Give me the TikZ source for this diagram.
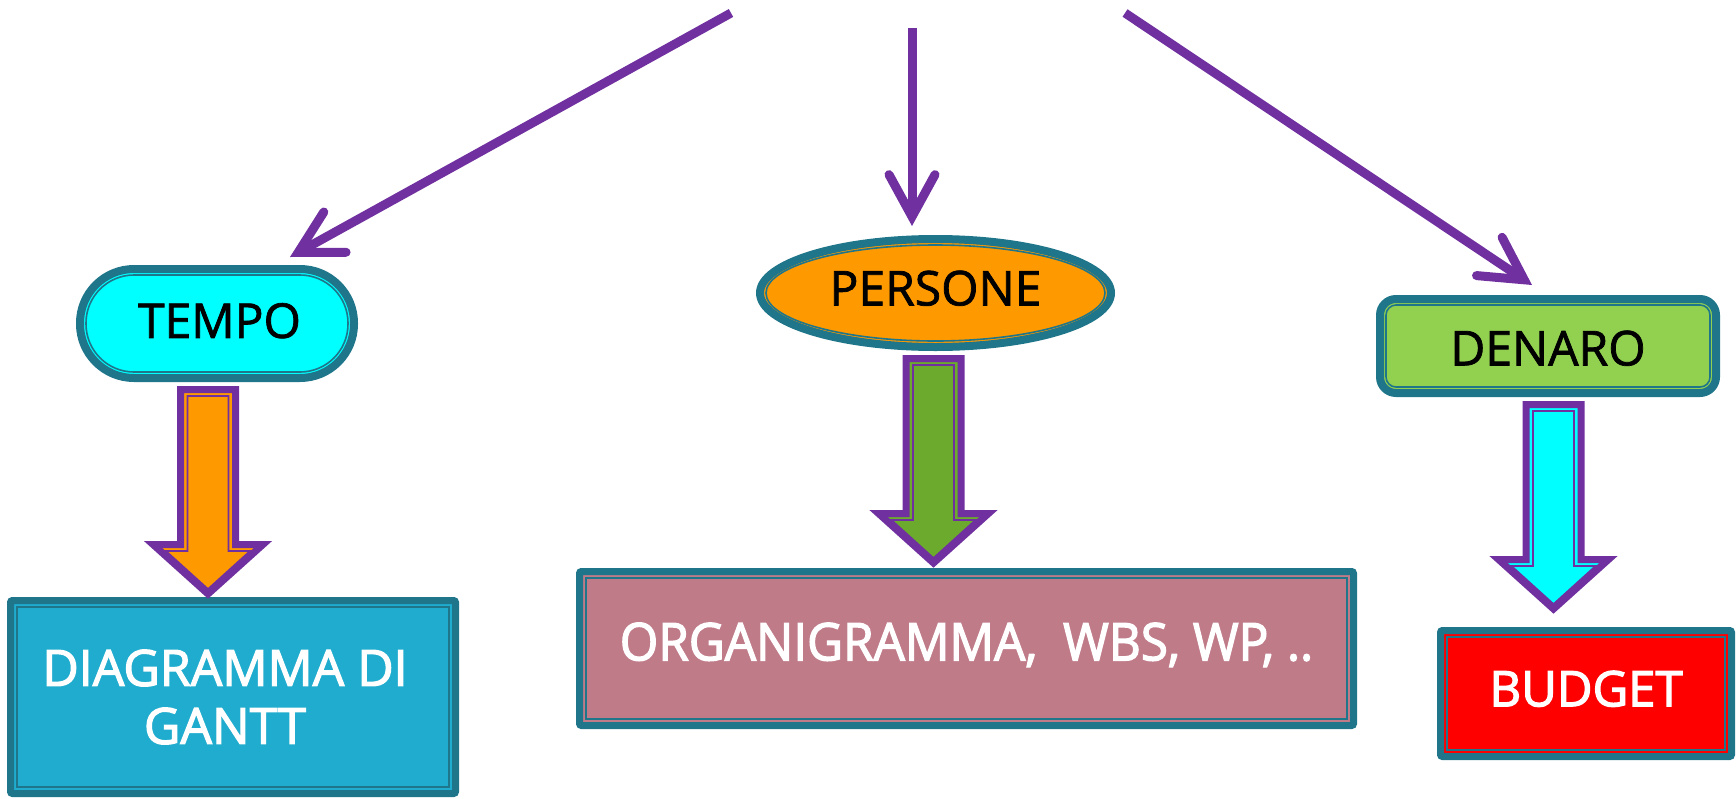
\documentclass[tikz,border=0pt]{standalone}
\usepackage{fontspec}
\setmainfont{Open Sans}
\newfontfamily\headfam[FakeBold=1.5]{Open Sans}
\newfontfamily\whitefont[FakeBold=2.5]{Open Sans}
\newfontfamily\condfont[FakeStretch=0.95,FakeBold=2.5]{Open Sans}
\usetikzlibrary{arrows.meta,shapes.geometric}

\definecolor{tealc}{RGB}{31,118,138}
\definecolor{purp}{RGB}{112,48,160}
\definecolor{orng}{RGB}{255,153,0}
\definecolor{lgreen}{RGB}{146,208,80}
\definecolor{dgreen}{RGB}{107,170,44}
\definecolor{skyb}{RGB}{32,172,206}
\definecolor{rose}{RGB}{192,123,137}
\definecolor{aqua}{RGB}{0,255,255}
\definecolor{rred}{RGB}{255,0,0}

% raise a label without changing the box it occupies
\newcommand\lift[2]{\raisebox{#1}[\height][0pt]{#2}}

% wide downward block arrow with a thick-thin purple outline
\newcommand\fatarrow[3]{% centre x, top y, fill colour
  \filldraw[fill=#3, draw=purp, line width=7pt, line join=miter, miter limit=12]
    ({#1-27.5},{#2+3.5}) -- ({#1+27.5},{#2+3.5}) -- ({#1+27.5},{#2+158.5})
    -- ({#1+55},{#2+158.5}) -- ({#1},{#2+208}) -- ({#1-55},{#2+158.5})
    -- ({#1-27.5},{#2+158.5}) -- cycle;
  \draw[draw=purp, line width=1.6pt, line join=miter]
    ({#1-20.5},{#2+10}) -- ({#1+20.5},{#2+10}) -- ({#1+20.5},{#2+165})
    -- ({#1+42},{#2+165}) -- ({#1},{#2+203}) -- ({#1-42},{#2+165})
    -- ({#1-20.5},{#2+165}) -- cycle;
}

\tikzset{
  frame/.style={draw=tealc, line width=7pt, inner sep=0pt, outer sep=0pt},
  hair/.style={draw=tealc, line width=1.6pt},
  pointer/.style={draw=purp, line width=9pt,
    -{Straight Barb[length=42pt,width=46pt,line cap=round,line join=miter]}},
  headfont/.style={font=\headfam\fontsize{48}{54}\selectfont},
  boxfont/.style={font=\whitefont\fontsize{50}{58}\selectfont, text=white},
}

\begin{document}
\begin{tikzpicture}[x=1pt,y=-1pt]
\useasboundingbox (0,0) rectangle (1736,798);

% ---- top level categories ----
\node[frame, line width=8pt, rectangle, rounded corners=54pt, fill=aqua,
      minimum width=274pt, minimum height=109pt, headfont] (tempo) at (217,323.5)
      {\lift{3pt}{\hspace*{5pt}TEMPO}};
\draw[hair, rounded corners=48pt] ([shift={(6,6)}]tempo.north west)
      rectangle ([shift={(-6,-6)}]tempo.south east);

\node[frame, line width=8pt, ellipse, fill=orng,
      minimum width=351pt, minimum height=108pt, headfont] (persone) at (935.5,293)
      {\lift{5pt}{PERSONE}};
\node[hair, ellipse, inner sep=0pt, minimum width=339pt, minimum height=96pt]
      (persone-in) at (persone.center) {};

\node[frame, line width=8pt, rectangle, rounded corners=16pt, fill=lgreen,
      minimum width=336pt, minimum height=94pt, headfont] (denaro) at (1548,346)
      {\lift{-2pt}{DENARO}};
\draw[hair, rounded corners=10pt] ([shift={(6,6)}]denaro.north west)
      rectangle ([shift={(-6,-6)}]denaro.south east);

% ---- tools ----
\node[frame, rectangle, rounded corners=2pt, fill=skyb, align=center,
      minimum width=445pt, minimum height=193pt, boxfont] (gantt) at (233,697)
      {DIAGRAMMA DI\hspace*{16pt}\\GANTT\hspace*{16pt}};
\draw[hair] ([shift={(6.5,6.5)}]gantt.north west)
      rectangle ([shift={(-6.5,-6.5)}]gantt.south east);

\node[frame, rectangle, rounded corners=2pt, fill=rose,
      minimum width=774pt, minimum height=154pt, boxfont] (org) at (966.5,648.5)
      {\lift{7pt}{\condfont\fontsize{52}{58}\selectfont ORGANIGRAMMA,~~WBS, WP, ..}};
\draw[hair] ([shift={(6.5,6.5)}]org.north west)
      rectangle ([shift={(-6.5,-6.5)}]org.south east);

\node[frame, rectangle, rounded corners=2pt, fill=rred,
      minimum width=291pt, minimum height=126pt, boxfont] (budget) at (1586,693.5)
      {\lift{5pt}{\fontsize{49}{56}\selectfont BUDGET}};
\draw[hair] ([shift={(6.5,6.5)}]budget.north west)
      rectangle ([shift={(-6.5,-6.5)}]budget.south east);

% ---- block arrows from categories to tools ----
\fatarrow{208}{386}{orng}
\fatarrow{933.5}{355}{dgreen}
\fatarrow{1553.5}{401}{aqua}

% ---- pointers from the top ----
\coordinate (s1) at (731,13);
\coordinate (e1) at (290,257);
\coordinate (s2) at (912,28);
\coordinate (e2) at (912,226);
\coordinate (s3) at (1125,13);
\coordinate (e3) at (1532,285);
\draw[pointer] (s1) -- (e1);
\draw[pointer] (s2) -- (e2);
\draw[pointer] (s3) -- (e3);
\end{tikzpicture}
\end{document}
